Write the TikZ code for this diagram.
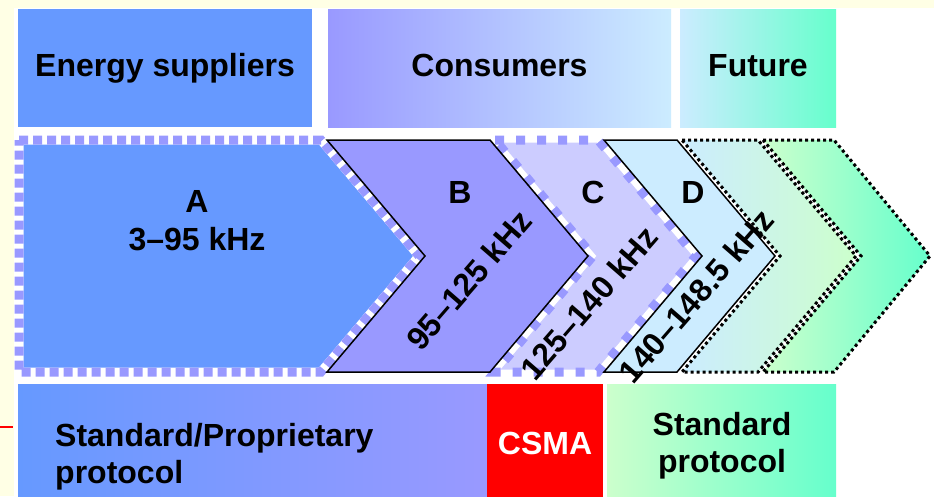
\documentclass[tikz,border=0pt]{standalone}
\usepackage{fontspec}
\setmainfont{Liberation Sans}
\definecolor{paleyellow}{HTML}{FFFFE5}
\definecolor{corn}{HTML}{6699FF}
\definecolor{lilac}{HTML}{9999FF}
\definecolor{lav}{HTML}{CCCCFF}
\definecolor{iceblue}{HTML}{CCECFF}
\definecolor{mint}{HTML}{CCFFCC}
\definecolor{aqua}{HTML}{66FFCC}
\begin{document}
\begin{tikzpicture}[x=1pt,y=-1pt,
  font=\fontsize{32}{37}\selectfont\bfseries,
  box/.style={inner sep=0pt, outer sep=0pt, anchor=north west, text height=23pt, text depth=7pt},
  solidedge/.style={draw=black, line width=1.5pt, line join=miter},
  dashunder/.style={draw=white, line join=miter},
  dashedge/.style={draw=lilac, line join=miter},
  dotedge/.style={draw=black, line width=3pt, dash pattern=on 3pt off 3pt, line join=miter},
  lbl/.style={inner sep=0pt},
  freq/.style={inner sep=0pt, rotate=49}]
\useasboundingbox (0,0) rectangle (934,496);
\clip (0,0) rectangle (934,496);
% background
\fill[paleyellow] (0,0) rectangle (934,496);
\fill[white] (14,8) rectangle (934,496);
\draw[red, line width=1.5pt] (0,427) -- (13,427);
% top boxes
\node[box, fill=corn, minimum width=294pt, minimum height=118pt] (energy) at (18,9) {Energy suppliers};
\node[box, left color=lilac, right color=iceblue, minimum width=343pt, minimum height=118pt] (consumers) at (328,9) {Consumers};
\node[box, left color=iceblue, right color=aqua, minimum width=156pt, minimum height=118pt] (future) at (680,9) {Future};
% bottom boxes
\node[box, left color=corn, right color=lilac, minimum width=469pt, minimum height=124pt] (propbox) at (18,384) {};
\node[box, fill=red, text=white, minimum width=116pt, minimum height=124pt] (csma) at (487,384) {CSMA};
\node[box, left color=mint, right color=aqua, minimum width=229pt, minimum height=124pt] (stdbox) at (607,384) {};
% chevron fills
\fill[corn] (19,140) -- (321,140) -- (419,256) -- (321,372) -- (19,372) -- cycle;
\fill[lilac] (327,140) -- (490,140) -- (588,256) -- (490,372) -- (327,372) -- (425,256) -- cycle;
\fill[lav] (495,140) -- (598,140) -- (696,256) -- (598,372) -- (495,372) -- (593,256) -- cycle;
\fill[iceblue] (604,140) -- (677,140) -- (775,256) -- (677,372) -- (604,372) -- (702,256) -- cycle;
\shade[left color=iceblue, right color=mint] (682,140) -- (758,140) -- (856,256) -- (758,372) -- (682,372) -- (780,256) -- cycle;
\shade[left color=mint, right color=aqua] (763,140) -- (834,140) -- (930,256) -- (834,372) -- (763,372) -- (861,256) -- cycle;
% dashed borders
\draw[dashunder, line width=9pt] (19,140) -- (321,140) -- (419,256) -- (321,372) -- (19,372) -- cycle;
\draw[dashedge, line width=9pt, dash pattern=on 9pt off 5pt] (19,140) -- (321,140) -- (419,256) -- (321,372) -- (19,372) -- cycle;
\draw[dashunder, line width=5pt] (495,140) -- (598,140) -- (696,256) -- (598,372) -- (495,372) -- (593,256) -- cycle;
\draw[dashedge, line width=9pt, dash pattern=on 9pt off 12pt] (495,140) -- (598,140) -- (696,256) -- (598,372) -- (495,372) -- (593,256) -- cycle;
% dotted borders
\draw[dotedge] (682,140) -- (758,140) -- (856,256) -- (758,372) -- (682,372) -- (780,256) -- cycle;
\draw[dotedge] (763,140) -- (834,140) -- (930,256) -- (834,372) -- (763,372) -- (861,256) -- cycle;
% solid borders
\draw[solidedge] (327,140) -- (490,140) -- (588,256) -- (490,372) -- (327,372) -- (425,256) -- cycle;
\draw[solidedge] (604,140) -- (677,140) -- (775,256) -- (677,372) -- (604,372) -- (702,256) -- cycle;
% chevron labels
\node[lbl, align=center] (la) at (197,221) {A\\[1pt]3–95 kHz};
\node[lbl, anchor=base] (lb) at (460,203) {B};
\node[lbl, anchor=base] (lc) at (593,203) {C};
\node[lbl, anchor=base] (ld) at (693,203) {D};
\node[freq] (fb) at (469,280) {95–125 kHz};
\node[freq] (fc) at (589,303) {125–140 kHz};
\node[freq] (fd) at (696,296) {140–148.5 kHz};
% bottom texts
\node[lbl, anchor=west, align=left] (proptext) at (55,457) {Standard/Proprietary\\protocol};
\node[lbl, align=center] (stdtext) at (722,446) {Standard\\protocol};
\end{tikzpicture}
\end{document}
